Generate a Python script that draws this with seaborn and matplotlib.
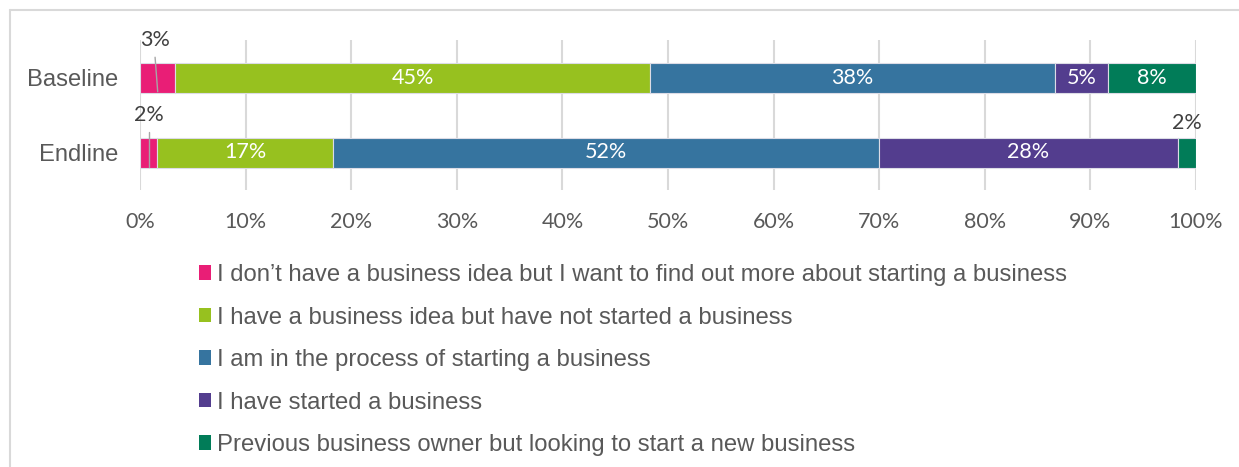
import numpy as np
import pandas as pd
import matplotlib
matplotlib.use("Agg")
import matplotlib.pyplot as plt
from matplotlib.lines import Line2D
from matplotlib.patches import Patch
import seaborn as sns

# Survey groups and answer shares (percent)
groups = ["Baseline", "Endline"]
responses = [
    "I don\u2019t have a business idea but I want to find out more about starting a business",
    "I have a business idea but have not started a business",
    "I am in the process of starting a business",
    "I have started a business",
    "Previous business owner but looking to start a new business",
]
baseline = [3.3, 45.0, 38.4, 5.0, 8.3]
endline = [1.6, 16.7, 51.7, 28.3, 1.7]
colors = ["#E91E76", "#97C11F", "#36749F", "#533D8E", "#017C58"]
x_ticks = [0, 10, 20, 30, 40, 50, 60, 70, 80, 90, 100]

sns.set_theme(style="white")
TEXT = "#595959"
GRID = "#d9d9d9"
LABEL_FONT = ["Lato", "DejaVu Sans"]
plt.rcParams["font.family"] = ["Liberation Sans", "DejaVu Sans"]

W, H = 1239, 467
fig = plt.figure(figsize=(W / 100, H / 100), dpi=100)
left_px, right_px, top_px, bot_px = 140.3, 1195.7, 40, 190
ax = fig.add_axes([left_px / W, 1 - bot_px / H, (right_px - left_px) / W, (bot_px - top_px) / H])

values = np.array([baseline, endline])
starts = np.hstack([np.zeros((2, 1)), np.cumsum(values, axis=1)[:, :-1]])

for i, resp in enumerate(responses):
    df = pd.DataFrame({"group": groups, "share": values[:, i]})
    sns.barplot(data=df, x="share", y="group", order=groups, orient="h",
                color=colors[i], saturation=1, width=0.4, errorbar=None,
                left=starts[:, i], edgecolor="#dcdce6", linewidth=0.8,
                ax=ax, zorder=3)

ax.set_xlim(0, 100)
ax.set_ylim(1.5, -0.5)
ax.set_xticks(x_ticks)
ax.set_xticklabels([f"{t}%" for t in x_ticks], fontfamily=LABEL_FONT)
ax.tick_params(axis="x", length=0, pad=15.5, labelsize=15.5, labelcolor=TEXT)
ax.tick_params(axis="y", length=0, pad=16, labelsize=17.1, labelcolor=TEXT)
ax.set_xlabel("")
ax.set_ylabel("")
ax.grid(axis="x", color=GRID, linewidth=1.5, zorder=0)
ax.grid(axis="y", visible=False)
for s in ax.spines.values():
    s.set_visible(False)

# Segment value labels: inside for wide segments, outside with a leader for narrow ones
outside = {
    (0, 0): (1.35, -0.505, [(1.4, -0.27), (1.65, 0.19)]),
    (1, 0): (0.83, 0.50, [(0.83, 0.72), (0.83, 1.19)]),
    (1, 4): (99.2, 0.607, None),
}
for g in range(2):
    for i in range(len(responses)):
        v = values[g, i]
        txt = f"{v:.0f}%"
        if (g, i) in outside:
            tx, ty, leader = outside[(g, i)]
            ax.text(tx, ty, txt, ha="center", va="center", color="#404040",
                    fontsize=15.5, fontfamily=LABEL_FONT, zorder=5, clip_on=False)
            if leader is not None:
                (x0, y0), (x1, y1) = leader
                ax.plot([x0, x1], [y0, y1], color="#a6a6a6", linewidth=1.0, zorder=6)
        else:
            ax.text(starts[g, i] + v / 2, g, txt, ha="center", va="center",
                    color="white", fontsize=15.5, fontfamily=LABEL_FONT, zorder=5)

# Legend below the plot
handles = [Patch(facecolor=c, edgecolor="none") for c in colors]
fig.legend(handles, responses, loc="upper left", bbox_to_anchor=(198.8 / W, 1 - 264 / H),
           frameon=False, fontsize=17.2, labelcolor=TEXT, handlelength=0.52, handleheight=0.56,
           handletextpad=0.24, labelspacing=0.86, borderpad=0, borderaxespad=0)

# Light frame edges around the chart area
fig.add_artist(Line2D([10 / W, 10 / W], [0, 1 - 10 / H], color=GRID, linewidth=1.5))
fig.add_artist(Line2D([10 / W, 1], [1 - 10 / H, 1 - 10 / H], color=GRID, linewidth=1.5))

fig.savefig("out.png", dpi=100)
